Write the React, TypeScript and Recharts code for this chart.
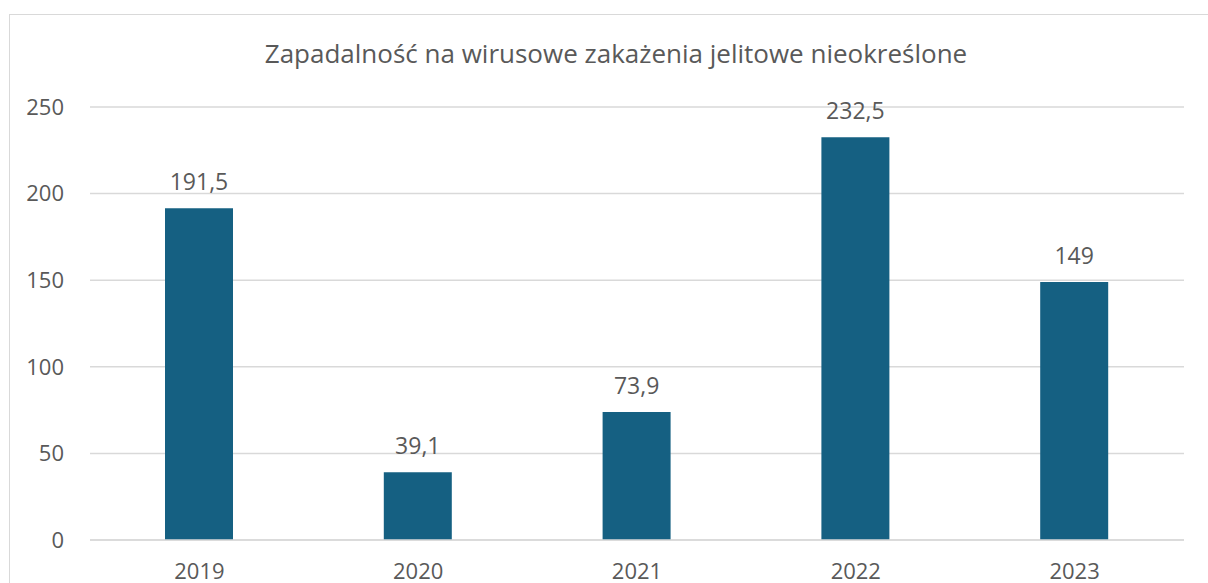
import React from "react";
import { BarChart, Bar, XAxis, YAxis, CartesianGrid, LabelList } from "recharts";

const years = ["2019", "2020", "2021", "2022", "2023"];
const values = [191.5, 39.1, 73.9, 232.5, 149];
const yTicks = [0, 50, 100, 150, 200, 250];
const title = "Zapadalność na wirusowe zakażenia jelitowe nieokreślone";

const data = years.map((y, i) => ({ year: y, value: values[i] }));

const FONT = "'Open Sans', sans-serif";
const TEXT = "#595959";

export default function App() {
  return (
    <div style={{ position: "absolute", left: 0, top: 0, width: 1208, height: 583, overflow: "hidden", background: "#fff" }}>
      <div
        style={{
          position: "absolute",
          left: 9,
          top: 14,
          width: 1230,
          height: 700,
          border: "1.5px solid #d9d9d9",
          boxSizing: "border-box",
        }}
      />
      <div
        style={{
          position: "absolute",
          left: 116,
          width: 1000,
          top: 36,
          textAlign: "center",
          fontFamily: FONT,
          fontSize: 26,
          color: TEXT,
          lineHeight: "34px",
          whiteSpace: "nowrap",
        }}
      >
        {title}
      </div>
      <div style={{ position: "absolute", left: 0, top: 0 }}>
        <BarChart
          width={1208}
          height={620}
          data={data}
          margin={{ top: 107, right: 24, bottom: 40, left: 10 }}
        >
          <CartesianGrid vertical={false} stroke="#d9d9d9" strokeWidth={1.5} />
          <XAxis
            dataKey="year"
            axisLine={{ stroke: "#d9d9d9", strokeWidth: 1.5 }}
            tickLine={false}
            tickSize={0}
            tickMargin={23}
            height={40}
            tick={{ fill: TEXT, fontSize: 22, fontFamily: FONT }}
          />
          <YAxis
            domain={[0, 250]}
            ticks={yTicks}
            axisLine={false}
            tickLine={false}
            tickSize={0}
            tickMargin={26}
            width={80}
            tick={{ fill: TEXT, fontSize: 22, fontFamily: FONT }}
          />
          <Bar dataKey="value" fill="#156082" barSize={68} isAnimationActive={false}>
            <LabelList
              dataKey="value"
              position="top"
              offset={18}
              formatter={(v: any) => String(v).replace(".", ",")}
              style={{ fill: TEXT, fontSize: 23, fontFamily: FONT }}
            />
          </Bar>
        </BarChart>
      </div>
    </div>
  );
}
